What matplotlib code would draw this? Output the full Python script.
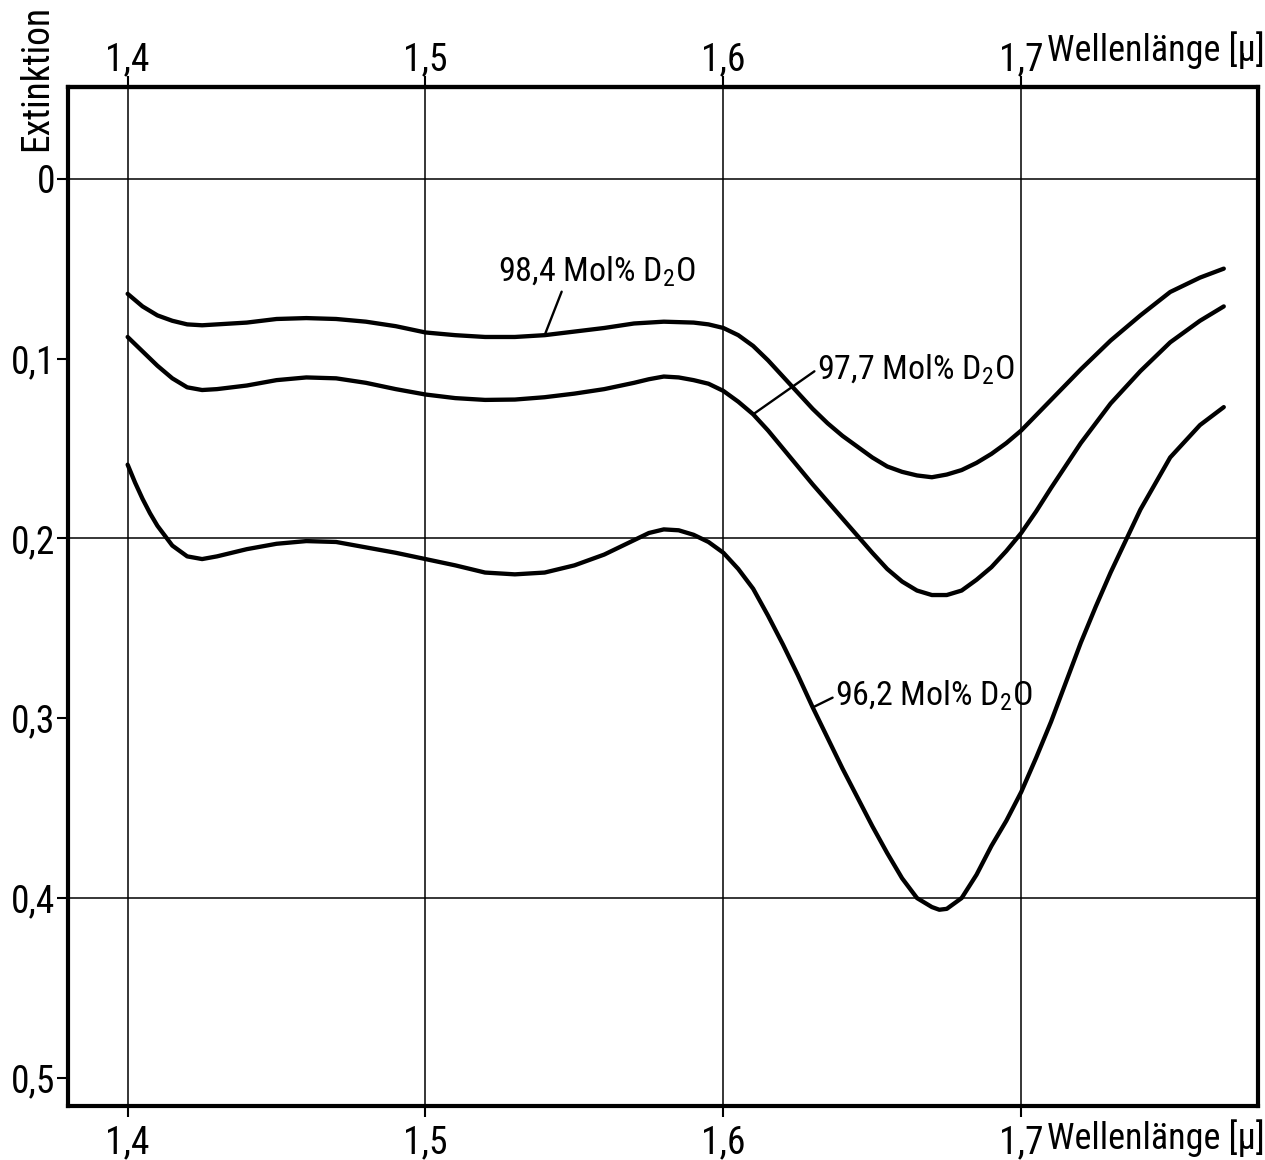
import matplotlib
matplotlib.use('Agg')
import matplotlib.pyplot as plt
import matplotlib.transforms as mtransforms
from matplotlib import rcParams

rcParams['font.family'] = ['Roboto Condensed', 'Roboto', 'DejaVu Sans']
rcParams['mathtext.fontset'] = 'custom'
rcParams['mathtext.rm'] = 'Roboto Condensed'
rcParams['mathtext.it'] = 'Roboto Condensed'

# wavelength [micron] and extinction
wl_984 = [1.400, 1.4025, 1.405, 1.410, 1.415, 1.420, 1.425, 1.430, 1.440,
          1.450, 1.460, 1.470, 1.480, 1.490, 1.500, 1.510, 1.520, 1.530,
          1.540, 1.550, 1.560, 1.570, 1.580, 1.590, 1.595, 1.600, 1.605,
          1.610, 1.615, 1.620, 1.625, 1.630, 1.635, 1.640, 1.645, 1.650,
          1.655, 1.660, 1.665, 1.670, 1.675, 1.680, 1.685, 1.690, 1.695,
          1.700, 1.705, 1.710, 1.720, 1.730, 1.740, 1.750, 1.760, 1.768]
ext_984 = [0.064, 0.0675, 0.071, 0.076, 0.079, 0.081, 0.0815, 0.081, 0.080,
           0.078, 0.0775, 0.078, 0.0795, 0.082, 0.0855, 0.087, 0.088, 0.088,
           0.087, 0.085, 0.083, 0.0805, 0.0795, 0.080, 0.081, 0.083, 0.087,
           0.093, 0.101, 0.110, 0.119, 0.128, 0.136, 0.143, 0.149, 0.155,
           0.160, 0.163, 0.165, 0.166, 0.1645, 0.162, 0.158, 0.153, 0.147,
           0.140, 0.1315, 0.123, 0.106, 0.090, 0.076, 0.063, 0.055, 0.050]

wl_977 = [1.400, 1.4025, 1.405, 1.410, 1.415, 1.420, 1.425, 1.430, 1.440,
          1.450, 1.460, 1.470, 1.480, 1.490, 1.500, 1.510, 1.520, 1.530,
          1.540, 1.550, 1.560, 1.570, 1.575, 1.580, 1.585, 1.590, 1.595,
          1.600, 1.605, 1.610, 1.615, 1.620, 1.630, 1.640, 1.650, 1.655,
          1.660, 1.665, 1.670, 1.675, 1.680, 1.685, 1.690, 1.695, 1.700,
          1.705, 1.710, 1.720, 1.730, 1.740, 1.750, 1.760, 1.768]
ext_977 = [0.088, 0.092, 0.096, 0.104, 0.111, 0.116, 0.1175, 0.117, 0.115,
           0.112, 0.1105, 0.111, 0.1135, 0.117, 0.120, 0.122, 0.123, 0.1228,
           0.1215, 0.1195, 0.117, 0.1135, 0.1115, 0.110, 0.1105, 0.112, 0.114,
           0.118, 0.124, 0.131, 0.140, 0.150, 0.170, 0.189, 0.208, 0.217,
           0.224, 0.229, 0.2315, 0.2315, 0.229, 0.223, 0.216, 0.207, 0.197,
           0.185, 0.172, 0.147, 0.125, 0.107, 0.091, 0.079, 0.071]

wl_962 = [1.400, 1.4025, 1.405, 1.4075, 1.410, 1.415, 1.420, 1.425, 1.430,
          1.440, 1.450, 1.460, 1.470, 1.480, 1.490, 1.500, 1.510, 1.520,
          1.530, 1.540, 1.550, 1.560, 1.570, 1.575, 1.580, 1.585, 1.590,
          1.595, 1.600, 1.605, 1.610, 1.615, 1.620, 1.625, 1.630, 1.635,
          1.640, 1.645, 1.650, 1.655, 1.660, 1.665, 1.670, 1.6725, 1.675,
          1.680, 1.685, 1.690, 1.695, 1.700, 1.705, 1.710, 1.715, 1.720,
          1.725, 1.730, 1.740, 1.750, 1.760, 1.768]
ext_962 = [0.159, 0.169, 0.178, 0.186, 0.193, 0.204, 0.210, 0.2115, 0.210,
           0.206, 0.203, 0.2015, 0.202, 0.205, 0.208, 0.2115, 0.215, 0.219,
           0.220, 0.219, 0.215, 0.209, 0.201, 0.197, 0.195, 0.1955, 0.198,
           0.202, 0.208, 0.217, 0.228, 0.243, 0.259, 0.276, 0.294, 0.311,
           0.328, 0.344, 0.360, 0.375, 0.389, 0.400, 0.405, 0.4065, 0.406,
           0.400, 0.387, 0.371, 0.357, 0.341, 0.322, 0.302, 0.280, 0.258,
           0.238, 0.219, 0.184, 0.155, 0.137, 0.127]

labels = ['98,4 Mol% D$_2$O', '97,7 Mol% D$_2$O', '96,2 Mol% D$_2$O']
# wavelength where each leader line touches its curve
leader_x = [1.540, 1.610, 1.630]
label_pos = [(1.5242, 0.0517), (1.6315, 0.106), (1.6376, 0.2878)]
label_relpos = [(0.33, 0.0), (0.0, 0.5), (0.0, 0.5)]

xticks = [1.4, 1.5, 1.6, 1.7]
xticklabels = ['1,4', '1,5', '1,6', '1,7']
yticks = [0.0, 0.1, 0.2, 0.3, 0.4, 0.5]
yticklabels = ['0', '0,1', '0,2', '0,3', '0,4', '0,5']
grid_y = [0.0, 0.2, 0.4]

fig = plt.figure(figsize=(12.65, 11.6), dpi=100)
ax = fig.add_axes([0.0538, 0.0466, 0.9407, 0.8784])

ax.set_xlim(1.380, 1.7795)
ax.set_ylim(0.5156, -0.051)

for y in grid_y:
    ax.axhline(y, color='black', lw=1.1, zorder=1)
ax.set_xticks(xticks)
ax.set_xticklabels(xticklabels)
ax.set_yticks(yticks)
ax.set_yticklabels(yticklabels)
ax.xaxis.grid(True, color='black', lw=1.1)
ax.set_axisbelow(True)

ax.tick_params(axis='x', direction='out', length=8, width=1.5, pad=5,
               labelsize=27)
ax.tick_params(axis='y', direction='out', length=8, width=1.5, pad=1,
               labelsize=27)
for s in ax.spines.values():
    s.set_linewidth(3.0)

top = ax.secondary_xaxis('top')
top.set_xticks(xticks)
top.set_xticklabels(xticklabels)
top.tick_params(direction='out', length=8, width=1.5, pad=-2, labelsize=27)
top.spines['top'].set_linewidth(3.0)

curves = [(wl_984, ext_984), (wl_977, ext_977), (wl_962, ext_962)]
for (wl, ext), lab, lx, pos, rp in zip(curves, labels, leader_x,
                                       label_pos, label_relpos):
    ax.plot(wl, ext, color='black', lw=3.1, solid_capstyle='round',
            solid_joinstyle='round', zorder=3)
    i = wl.index(lx)
    ax.annotate(lab, xy=(wl[i], ext[i]), xytext=pos, ha='left',
                va='center', fontsize=24.5,
                arrowprops=dict(arrowstyle='-', lw=1.7, color='black',
                                shrinkA=0, shrinkB=0, relpos=rp))

# axis titles
trans = mtransforms.blended_transform_factory(ax.transData, ax.transAxes)
ax.text(1.7087, 1.036, 'Wellenlänge [μ]', transform=trans, ha='left',
        va='center', fontsize=26)
ax.text(1.7087, -0.032, 'Wellenlänge [μ]', transform=trans, ha='left',
        va='center', fontsize=26)
ax.text(-0.026, 1.009, 'Extinktion', transform=ax.transAxes, rotation=90,
        ha='center', va='center', fontsize=27)

fig.savefig('out.png', dpi=100)
